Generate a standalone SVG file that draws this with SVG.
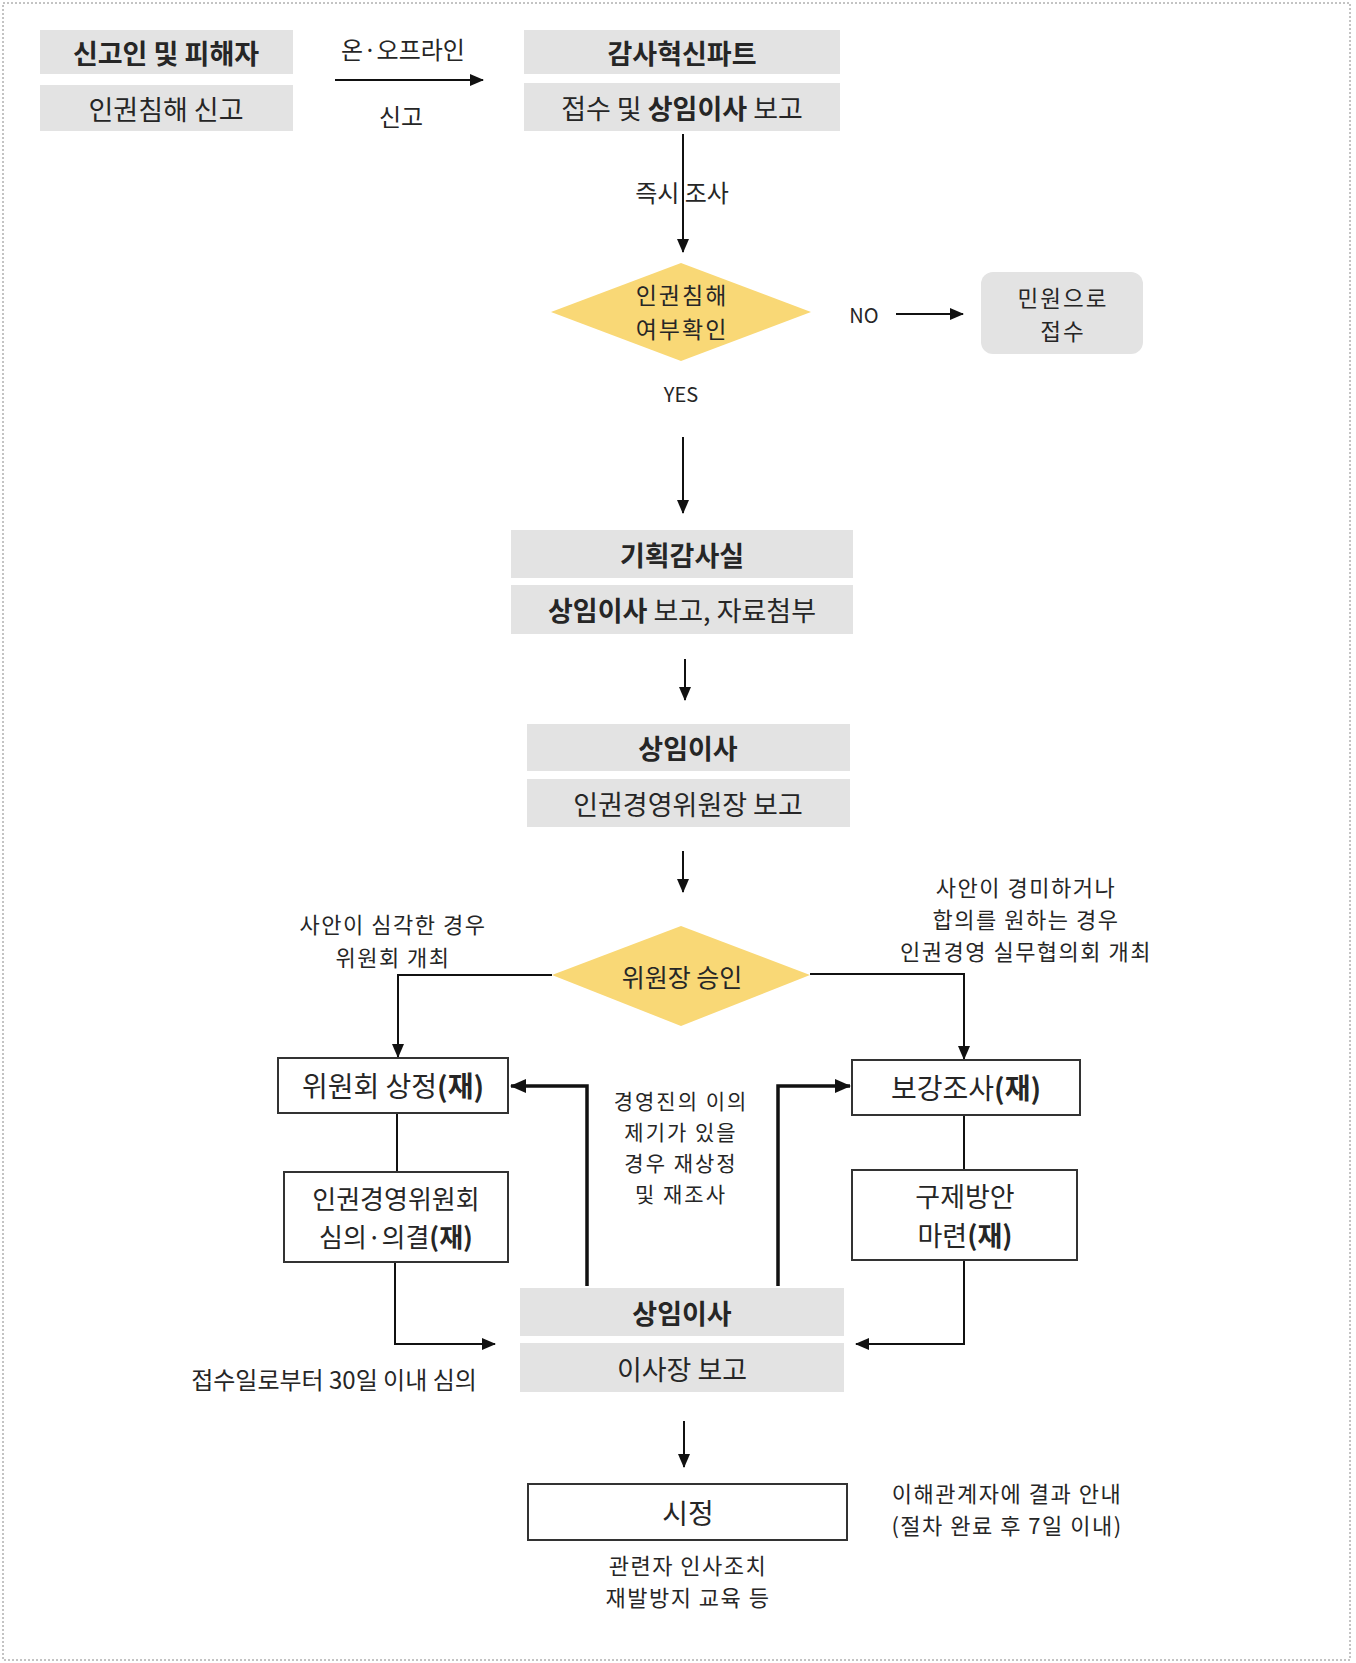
<svg xmlns="http://www.w3.org/2000/svg" width="1356" height="1663" viewBox="0 0 1356 1663">
<style>
.t{font-family:"Malgun Gothic","Noto Sans CJK KR",sans-serif;fill:#262626;text-anchor:middle;dominant-baseline:central;font-size:24px}
.h{font-size:27px}
.bx{font-size:28px}
.b{font-weight:700}
.m{font-size:22px;letter-spacing:1.5px}
.bar{fill:#e3e3e3}
.box{fill:#fff;stroke:#333;stroke-width:2}
.dia{fill:#f9d876}
.ln{stroke:#111;stroke-width:2;fill:none}
.thick{stroke:#111;stroke-width:3.5;fill:none}
</style>
<defs>
<marker id="ah" markerWidth="14" markerHeight="12" refX="13" refY="6" orient="auto" markerUnits="userSpaceOnUse"><path d="M0,0 L14,6 L0,12 z" fill="#111"/></marker>
<marker id="ahT" markerWidth="16" markerHeight="14" refX="15" refY="7" orient="auto" markerUnits="userSpaceOnUse"><path d="M0,0 L16,7 L0,14 z" fill="#111"/></marker>
</defs>
<rect x="3" y="3" width="1347" height="1657" fill="#fff" stroke="#888" stroke-width="1" stroke-dasharray="2,2"/>

<g id="connectors">
<line class="ln" x1="335" y1="80" x2="483" y2="80" marker-end="url(#ah)"/>
<line class="ln" x1="683" y1="134" x2="683" y2="252" marker-end="url(#ah)"/>
<line class="ln" x1="896" y1="314" x2="963" y2="314" marker-end="url(#ah)"/>
<line class="ln" x1="683" y1="437" x2="683" y2="513" marker-end="url(#ah)"/>
<line class="ln" x1="685" y1="659" x2="685" y2="700" marker-end="url(#ah)"/>
<line class="ln" x1="683" y1="851" x2="683" y2="892" marker-end="url(#ah)"/>
<path class="ln" d="M552,975 H398 V1057" marker-end="url(#ah)"/>
<path class="ln" d="M810,974 H964 V1059" marker-end="url(#ah)"/>
<line class="ln" x1="397" y1="1113" x2="397" y2="1172"/>
<line class="ln" x1="964" y1="1115" x2="964" y2="1170"/>
<path class="ln" d="M395,1262 V1344 H495" marker-end="url(#ah)"/>
<path class="ln" d="M964,1260 V1344 H856" marker-end="url(#ah)"/>
<path class="thick" d="M587,1286 V1086 H511" marker-end="url(#ahT)"/>
<path class="thick" d="M778,1286 V1086 H850" marker-end="url(#ahT)"/>
<line class="ln" x1="684" y1="1421" x2="684" y2="1467" marker-end="url(#ah)"/>
<text class="t" x="403" y="48">온·오프라인</text>
<text class="t" x="401" y="115">신고</text>
<text class="t" x="682" y="191">즉시 조사</text>
<text class="t" x="864" y="314" style="font-size:20px">NO</text>
<text class="t" x="681" y="393" style="font-size:20px">YES</text>
<text class="t m" x="393" y="923">사안이 심각한 경우<tspan x="393" dy="33">위원회 개최</tspan></text>
<text class="t m" x="1026" y="886">사안이 경미하거나<tspan x="1026" dy="32">합의를 원하는 경우</tspan><tspan x="1026" dy="32">인권경영 실무협의회 개최</tspan></text>
<text class="t m" x="681" y="1100" style="font-size:21px;letter-spacing:2px">경영진의 이의<tspan x="681" dy="31">제기가 있을</tspan><tspan x="681" dy="31">경우 재상정</tspan><tspan x="681" dy="31">및 재조사</tspan></text>
<text class="t" x="334" y="1378">접수일로부터 30일 이내 심의</text>
</g>

<g id="n1">
<rect class="bar" x="40" y="30" width="253" height="44"/>
<rect class="bar" x="40" y="85" width="253" height="46"/>
<text class="t h b" x="166" y="52">신고인 및 피해자</text>
<text class="t h" x="166" y="108">인권침해 신고</text>
</g>

<g id="n2">
<rect class="bar" x="524" y="30" width="316" height="44"/>
<rect class="bar" x="524" y="83" width="316" height="48"/>
<text class="t h b" x="682" y="52">감사혁신파트</text>
<text class="t h" x="682" y="107">접수 및 <tspan class="b">상임이사</tspan> 보고</text>
</g>

<g id="d1">
<polygon class="dia" points="551,312 681,263 811,312 681,361"/>
<text class="t" x="682" y="294" style="font-size:23px;letter-spacing:2px">인권침해<tspan x="682" dy="34">여부확인</tspan></text>
</g>

<g id="n4">
<rect class="bar" x="981" y="272" width="162" height="82" rx="12"/>
<text class="t" x="1063" y="297" style="font-size:22.5px;letter-spacing:2px">민원으로<tspan x="1063" dy="33">접수</tspan></text>
</g>

<g id="n5">
<rect class="bar" x="511" y="530" width="342" height="48"/>
<rect class="bar" x="511" y="585" width="342" height="49"/>
<text class="t h b" x="682" y="554">기획감사실</text>
<text class="t h" x="682" y="609"><tspan class="b">상임이사</tspan> 보고, 자료첨부</text>
</g>

<g id="n6">
<rect class="bar" x="527" y="724" width="323" height="47"/>
<rect class="bar" x="527" y="779" width="323" height="48"/>
<text class="t h b" x="688" y="747">상임이사</text>
<text class="t h" x="688" y="803">인권경영위원장 보고</text>
</g>

<g id="d2">
<polygon class="dia" points="552,975 681,926 810,975 681,1026"/>
<text class="t" x="682" y="976" style="font-size:25px">위원장 승인</text>
</g>

<g id="b1">
<rect class="box" x="278" y="1058" width="230" height="55"/>
<text class="t bx" x="393" y="1085">위원회 상정<tspan class="b">(재)</tspan></text>
</g>

<g id="b2">
<rect class="box" x="852" y="1060" width="228" height="55"/>
<text class="t bx" x="966" y="1087">보강조사<tspan class="b">(재)</tspan></text>
</g>

<g id="b3">
<rect class="box" x="284" y="1172" width="224" height="90"/>
<text class="t" x="396" y="1197" style="font-size:26px">인권경영위원회<tspan x="396" dy="38">심의·의결</tspan><tspan class="b">(재)</tspan></text>
</g>

<g id="b4">
<rect class="box" x="852" y="1170" width="225" height="90"/>
<text class="t" x="965" y="1195" style="font-size:27px">구제방안<tspan x="965" dy="39">마련</tspan><tspan class="b">(재)</tspan></text>
</g>

<g id="n7">
<rect class="bar" x="520" y="1288" width="324" height="48"/>
<rect class="bar" x="520" y="1343" width="324" height="49"/>
<text class="t h b" x="682" y="1312">상임이사</text>
<text class="t h" x="682" y="1368">이사장 보고</text>
</g>

<g id="b5">
<rect class="box" x="528" y="1484" width="319" height="56"/>
<text class="t bx" x="688" y="1512">시정</text>
<text class="t m" x="688" y="1564">관련자 인사조치<tspan x="688" dy="32">재발방지 교육 등</tspan></text>
<text class="t m" x="1007" y="1492">이해관계자에 결과 안내<tspan x="1007" dy="32">(절차 완료 후 7일 이내)</tspan></text>
</g>
</svg>
